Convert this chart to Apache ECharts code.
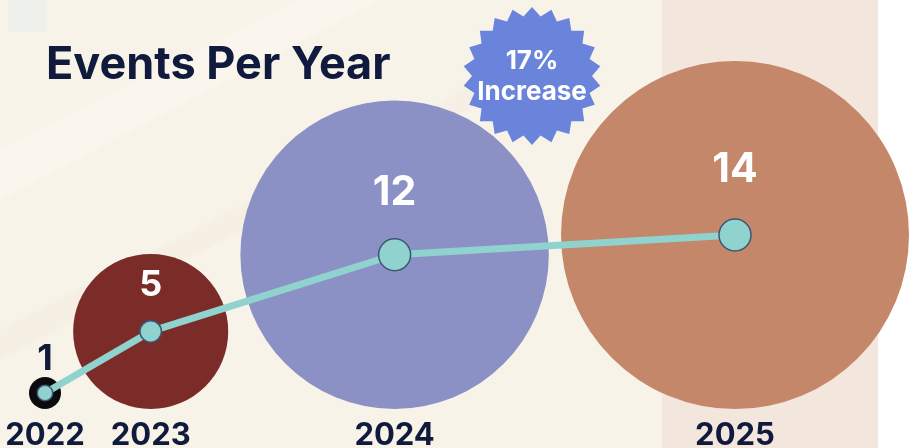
<!DOCTYPE html>
<html lang="en">
  <head>
    <meta charset="UTF-8" />
    <title>Events Per Year</title>
    <script src="https://cdn.jsdelivr.net/npm/echarts@6/dist/echarts.min.js"></script>
    <style>
      html, body { margin: 0; padding: 0; }
      #main { width: 916px; height: 448px; }
    </style>
  </head>
  <body>
    <div id="main"></div>
    <script>
      var years = ["2022", "2023", "2024", "2025"];
      var events = [1, 5, 12, 14];
      var bubbleColors = ["#0b0b0d", "#7b2c29", "#8b91c5", "#c4876a"];

      var W = 916, H = 448;
      var FONT = "Inter";
      var NAVY = "#0f1a3c";

      // bubble radius: gentle power scale between the smallest and largest year
      var minV = Math.min.apply(null, events), maxV = Math.max.apply(null, events);
      function radius(v) {
        return 16 + (174 - 16) * Math.pow((v - minV) / (maxV - minV), 0.8);
      }

      // bubbles sit on one baseline, spread across the width
      var baseY = 409, left = 29, right = 909;
      var radii = events.map(radius);
      var totalD = radii.reduce(function (s, r) { return s + 2 * r; }, 0);
      var gap = (right - left - totalD) / (events.length - 1);
      var centers = [];
      var cursor = left;
      radii.forEach(function (r) {
        centers.push([cursor + r, baseY - r]);
        cursor += 2 * r + gap;
      });

      var bubbleData = events.map(function (v, i) {
        return {
          value: centers[i],
          symbolSize: radii[i] * 2,
          itemStyle: { color: bubbleColors[i] },
          label: { formatter: years[i] }
        };
      });

      // trend points carry the value labels above them
      var lineData = events.map(function (v, i) {
        var r = radii[i];
        return {
          value: centers[i],
          symbolSize: Math.min(32, 14 + 1.5 * v),
          label: {
            formatter: String(v),
            offset: [0, -(31 + 0.2 * r)],
            fontSize: r > 100 ? 41 : 36,
            color: r < 30 ? NAVY : "#ffffff"
          }
        };
      });

      var last = events[events.length - 1], prev = events[events.length - 2];
      var pct = Math.round((last - prev) / prev * 100);

      // starburst badge
      var burst = [];
      var bx = 532, by = 76, spikes = 22;
      for (var k = 0; k < spikes * 2; k++) {
        var rr = k % 2 === 0 ? 69 : 60;
        var a = (Math.PI * k) / spikes - Math.PI / 2;
        burst.push([bx + rr * Math.cos(a), by + rr * Math.sin(a)]);
      }

      var myChart = echarts.init(document.getElementById("main"));

      var option = {
        backgroundColor: "#f8f3e8",
        animation: false,
        grid: { left: 0, right: 0, top: 0, bottom: 0 },
        xAxis: { type: "value", min: 0, max: W, show: false },
        yAxis: { type: "value", min: 0, max: H, inverse: true, show: false },
        graphic: [
          {
            type: "polygon", z: -10, silent: true,
            shape: { points: [[0, 150], [300, 0], [380, 0], [0, 200]] },
            style: { fill: "#faf6ee" }
          },
          {
            type: "polygon", z: -10, silent: true,
            shape: { points: [[0, 330], [560, 40], [560, 60], [0, 360]] },
            style: { fill: "#f6f0e4" }
          },
          {
            type: "rect", z: -9, silent: true,
            shape: { x: 8, y: 0, width: 38, height: 32 },
            style: { fill: "#eef0ec" }
          },
          {
            type: "rect", z: -9, silent: true,
            shape: { x: 662, y: 0, width: 216, height: H },
            style: { fill: "#f2e6dd" }
          },
          {
            type: "rect", z: -9, silent: true,
            shape: { x: 878, y: 0, width: 38, height: H },
            style: { fill: "#ffffff" }
          },
          {
            type: "text", left: 46, top: 43, z: 10,
            style: {
              text: "Events Per Year",
              font: "bold 45px " + FONT,
              fill: NAVY,
              textShadowColor: "#cbc4ea",
              textShadowOffsetX: 1,
              textShadowOffsetY: 2
            }
          },
          {
            type: "polygon", z: 10,
            shape: { points: burst },
            style: { fill: "#6a84dc" }
          },
          {
            type: "text", z: 11,
            x: bx, y: 61,
            style: {
              text: pct + "%", font: "bold 26px " + FONT, fill: "#ffffff",
              align: "center", verticalAlign: "middle"
            }
          },
          {
            type: "text", z: 11,
            x: bx, y: 92,
            style: {
              text: "Increase", font: "bold 26px " + FONT, fill: "#ffffff",
              align: "center", verticalAlign: "middle"
            }
          }
        ],
        series: [
          {
            name: "bubbles",
            type: "scatter",
            z: 2,
            data: bubbleData,
            itemStyle: { opacity: 1 },
            label: {
              show: true,
              position: "bottom",
              distance: 11,
              fontFamily: FONT,
              fontWeight: "bold",
              fontSize: 31,
              color: NAVY
            }
          },
          {
            name: "trend",
            type: "line",
            z: 3,
            data: lineData,
            symbol: "circle",
            lineStyle: { color: "#8fd2ce", width: 7 },
            itemStyle: { color: "#8fd2ce", borderColor: "#3c5676", borderWidth: 1.5 },
            label: {
              show: true,
              position: "inside",
              fontFamily: FONT,
              fontWeight: "bold"
            }
          }
        ]
      };

      myChart.setOption(option);
    </script>
  </body>
</html>
